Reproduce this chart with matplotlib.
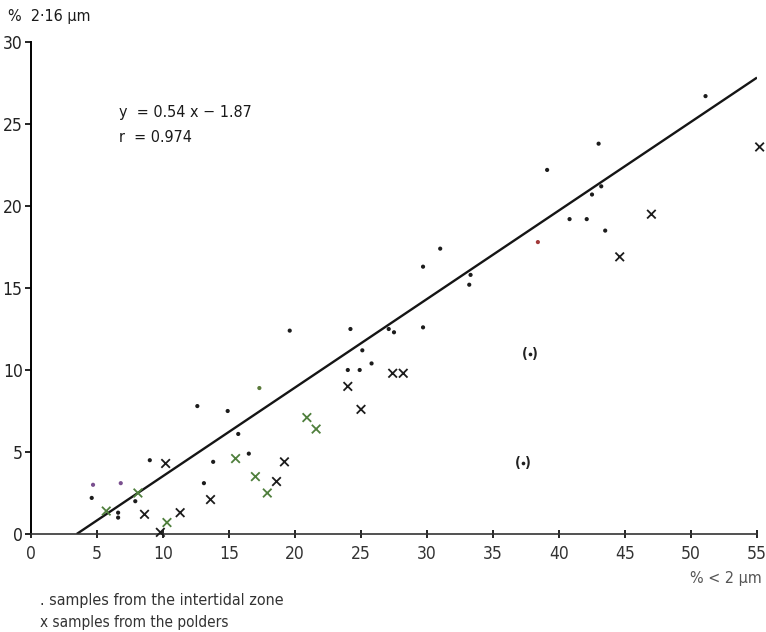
"""Fine silt (2-16 um) against clay (< 2 um) content, with regression line."""

import matplotlib
matplotlib.use("Agg")
import matplotlib.pyplot as plt
import numpy as np

plt.rcParams["font.family"] = ["DejaVu Sans"]
plt.rcParams["font.stretch"] = "condensed"

# intertidal zone samples (% < 2 um, % 2-16 um)
intertidal_x = [4.6, 4.7, 6.6, 6.6, 6.8, 7.9, 9.0, 12.6, 14.9, 13.8, 13.1,
                16.5, 15.7, 17.3, 19.6, 24.2, 27.1, 27.5, 25.1, 25.8, 24.0,
                24.9, 29.7, 31.0, 33.3, 33.2, 29.7, 38.4, 39.1, 40.8, 42.1,
                42.5, 43.0, 43.2, 43.5, 51.1]
intertidal_y = [2.2, 3.0, 1.0, 1.3, 3.1, 2.0, 4.5, 7.8, 7.5, 4.4, 3.1,
                4.9, 6.1, 8.9, 12.4, 12.5, 12.5, 12.3, 11.2, 10.4, 10.0,
                10.0, 16.3, 17.4, 15.8, 15.2, 12.6, 17.8, 22.2, 19.2, 19.2,
                20.7, 23.8, 21.2, 18.5, 26.7]

# doubtful intertidal samples, shown in brackets
doubtful_x = [37.8, 37.3]
doubtful_y = [11.0, 4.3]

# polder samples
polder_x = [5.7, 8.1, 8.6, 9.8, 10.2, 10.3, 11.3, 13.6, 15.5, 17.0, 17.9,
            18.6, 19.2, 20.9, 21.6, 24.0, 25.0, 27.4, 28.2, 44.6, 47.0, 55.2]
polder_y = [1.4, 2.5, 1.2, 0.1, 4.3, 0.7, 1.3, 2.1, 4.6, 3.5, 2.5,
            3.2, 4.4, 7.1, 6.4, 9.0, 7.6, 9.8, 9.8, 16.9, 19.5, 23.6]

slope = 0.54
intercept = -1.87
r_value = 0.974

x_ticks = [0, 5, 10, 15, 20, 25, 30, 35, 40, 45, 50, 55]
y_ticks = [0, 5, 10, 15, 20, 25, 30]

# print tints from the scanned original
DOT = "#1c1c1c"
GREEN = "#4f7f3c"
intertidal_colors = [DOT] * len(intertidal_x)
intertidal_colors[1] = "#7a4f8f"
intertidal_colors[4] = "#7a4f8f"
intertidal_colors[13] = "#5a7a3a"
intertidal_colors[27] = "#a23a3a"
polder_colors = [GREEN, GREEN, DOT, DOT, DOT, GREEN, DOT, DOT, GREEN, GREEN,
                 GREEN, DOT, DOT, GREEN, GREEN, DOT, DOT, DOT, DOT, DOT, DOT,
                 DOT]

fig = plt.figure(figsize=(7.66, 6.32), dpi=100)
ax = fig.add_axes([31 / 766, 98 / 632, 726 / 766, 492 / 632])

# regression line, from where it meets the x axis to the right edge
x0 = -intercept / slope
line_x = np.array([x0, 55])
ax.plot(line_x, slope * line_x + intercept, color="#151515", lw=1.7,
        solid_capstyle="butt", zorder=2)

ax.scatter(intertidal_x, intertidal_y, s=9, c=intertidal_colors,
           linewidths=0, zorder=3, clip_on=False)
ax.scatter(doubtful_x, doubtful_y, s=7, c=DOT, linewidths=0, zorder=3)
for dx, dy in zip(doubtful_x, doubtful_y):
    ax.text(dx, dy, "( )", ha="center", va="center", fontsize=10,
            fontweight="bold", color="#222222")
ax.scatter(polder_x, polder_y, s=38, marker="x", c=polder_colors,
           linewidths=1.3, zorder=4, clip_on=False)

ax.set_xlim(0, 55)
ax.set_ylim(0, 30)
ax.set_xticks(x_ticks)
ax.set_yticks(y_ticks)
ax.tick_params(axis="x", direction="inout", length=6, width=1.2, pad=5,
               labelsize=12.5, labelcolor="#333333")
ax.tick_params(axis="y", direction="out", length=4, width=1.2, pad=2,
               labelsize=12.5, labelcolor="#222222")
for side in ("top", "right"):
    ax.spines[side].set_visible(False)
ax.spines["left"].set_linewidth(1.4)
ax.spines["bottom"].set_linewidth(1.2)
ax.spines["bottom"].set_color("#333333")

ax.text(6.7, 25.7, f"y  = {slope:.2f} x \u2212 {abs(intercept):.2f}",
        fontsize=11.5, va="center", color="#1a1a1a")
ax.text(6.7, 24.15, f"r  = {r_value:.3f}", fontsize=11.5, va="center",
        color="#1a1a1a")

fig.text(8 / 766, 1 - 17 / 632, "%  2\u00b716 \u03bcm", fontsize=11.5,
         va="center", ha="left", color="#1a1a1a")
fig.text(762 / 766, 1 - 578 / 632, "% < 2 \u03bcm", fontsize=11.5,
         va="center", ha="right", color="#555555")
fig.text(40 / 766, 1 - 601 / 632, ". samples from the intertidal zone",
         fontsize=11.5, va="center", ha="left", color="#333333")
fig.text(40 / 766, 1 - 623 / 632, "x samples from the polders",
         fontsize=11, va="center", ha="left", color="#333333")

fig.savefig("out.png", dpi=100, facecolor="white")
